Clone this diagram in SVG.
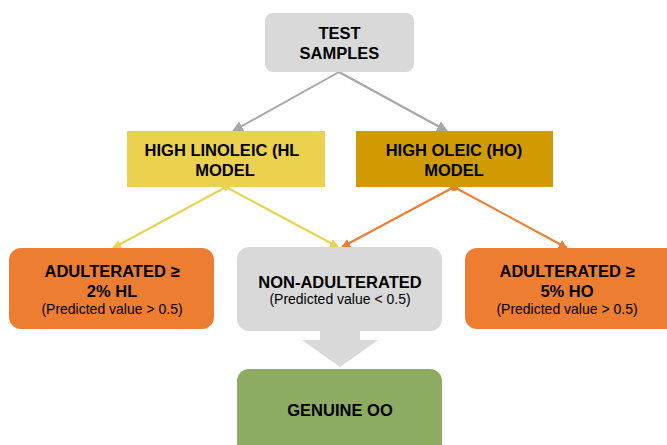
<svg xmlns="http://www.w3.org/2000/svg" width="667" height="445" viewBox="0 0 667 445">
<style>
.b{font-family:"Liberation Sans",Arial,sans-serif;font-weight:bold;font-size:16.5px;fill:#000;text-anchor:middle}
.s{font-family:"Liberation Sans",Arial,sans-serif;font-size:14px;fill:#000;text-anchor:middle}
.g{stroke:#a6a6a6;stroke-width:2;fill:none}
.y{stroke:#ecd14e;stroke-width:2;fill:none}
.o{stroke:#ed7d31;stroke-width:2;fill:none}
</style>
<defs>
<marker id="ag" viewBox="0 0 10 10" refX="9" refY="5" markerWidth="11" markerHeight="11" orient="auto" markerUnits="userSpaceOnUse"><path d="M0,0L10,5L0,10z" fill="#a6a6a6"/></marker>
<marker id="ay" viewBox="0 0 10 10" refX="9" refY="5" markerWidth="9" markerHeight="9" orient="auto" markerUnits="userSpaceOnUse"><path d="M0,0L10,5L0,10z" fill="#ecd14e"/></marker>
<marker id="ao" viewBox="0 0 10 10" refX="9" refY="5" markerWidth="9" markerHeight="9" orient="auto" markerUnits="userSpaceOnUse"><path d="M0,0L10,5L0,10z" fill="#ed7d31"/></marker>
</defs>
<rect width="667" height="445" fill="#fff"/>
<g id="connectors">
<path class="g" d="M339,72L233,131" marker-end="url(#ag)"/>
<path class="g" d="M339,72L447,131" marker-end="url(#ag)"/>
<path d="M226,183L230,187L226,191L222,187z" fill="#ecd14e"/>
<path class="y" d="M226,187L113,248" marker-end="url(#ay)"/>
<path class="y" d="M226,187L338,247" marker-end="url(#ay)"/>
<circle cx="454" cy="187" r="4" fill="#ed7d31"/>
<path class="o" d="M454,187L342,247" marker-end="url(#ao)"/>
<path class="o" d="M454,187L567,248" marker-end="url(#ao)"/>
<path d="M320,331H360V340H378L340,367L302,340H320z" fill="#d9d9d9"/>
</g>
<g id="test-samples">
<rect x="265" y="13" width="149" height="59" rx="8" fill="#d9d9d9"/>
<text class="b" x="339.5" y="39">TEST</text>
<text class="b" x="339.5" y="59">SAMPLES</text>
</g>
<g id="hl-model">
<rect x="127" y="131" width="198" height="56" fill="#ecd14e"/>
<text class="b" x="222" y="156">HIGH LINOLEIC (HL</text>
<text class="b" x="225" y="176">MODEL</text>
</g>
<g id="ho-model">
<rect x="356" y="131" width="197" height="56" fill="#d19b00"/>
<text class="b" x="454" y="156">HIGH OLEIC (HO)</text>
<text class="b" x="454" y="176">MODEL</text>
</g>
<g id="adulterated-hl">
<rect x="9" y="248" width="205" height="81" rx="12" fill="#ed7d31"/>
<text class="b" x="112" y="277">ADULTERATED ≥</text>
<text class="b" x="112" y="297">2% HL</text>
<text class="s" x="112" y="314">(Predicted value &gt; 0.5)</text>
</g>
<g id="non-adulterated">
<rect x="237" y="247" width="205" height="84" rx="12" fill="#d9d9d9"/>
<text class="b" x="340" y="288">NON-ADULTERATED</text>
<text class="s" x="340" y="304">(Predicted value &lt; 0.5)</text>
</g>
<g id="adulterated-ho">
<rect x="465" y="248" width="215" height="81" rx="12" fill="#ed7d31"/>
<text class="b" x="567" y="277">ADULTERATED ≥</text>
<text class="b" x="567" y="297">5% HO</text>
<text class="s" x="567" y="314">(Predicted value &gt; 0.5)</text>
</g>
<g id="genuine-oo">
<rect x="237" y="369" width="205" height="90" rx="12" fill="#8eab63"/>
<text class="b" x="340" y="416">GENUINE OO</text>
</g>
</svg>
